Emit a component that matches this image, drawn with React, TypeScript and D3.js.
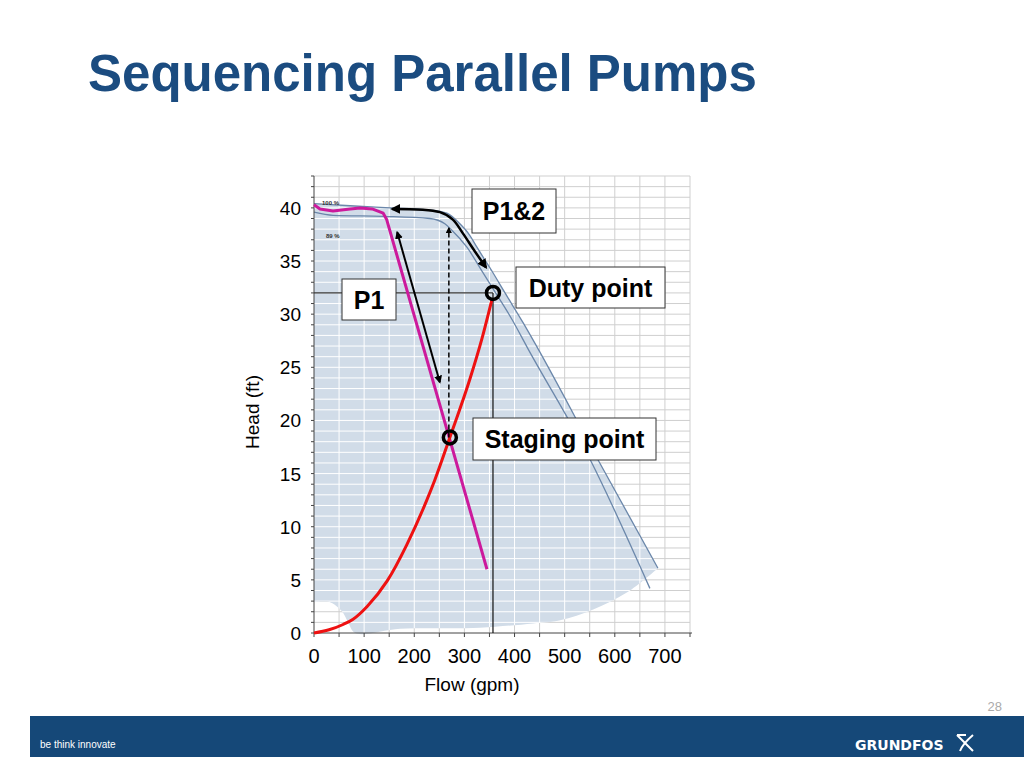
import { useEffect, useRef } from "react"
import * as d3 from "d3"

const flowTicks = [0, 100, 200, 300, 400, 500, 600, 700]
const headTicks = [0, 5, 10, 15, 20, 25, 30, 35, 40]

// pump curve at 100 % (outer line)
const fullFlow = [0, 72, 152, 231, 265, 291, 311, 325, 357, 381, 417, 445, 570, 686]
const fullHead = [40.4, 40.2, 40.0, 39.8, 39.5, 38.5, 37.4, 36.3, 33.9, 32.0, 29.2, 26.9, 16.0, 6.1]

// pump curve at 89 % (inner line)
const reducedFlow = [0, 38, 138, 231, 261, 275, 305, 337, 361, 395, 425, 551, 670]
const reducedHead = [39.6, 39.3, 39.2, 39.0, 38.5, 37.9, 36.3, 33.9, 32.1, 29.5, 26.9, 16.3, 4.2]

// lower edge of the operating area, right to left
const envelopeFlow = [686, 624, 557, 491, 437, 331, 172, 82, 68, 58, 48, 32, 0]
const envelopeHead = [6.1, 3.8, 2.2, 1.2, 0.9, 0.5, 0.4, 0, 1.0, 1.9, 2.4, 2.9, 2.9]

// single pump (P1)
const p1Flow = [0, 12, 38, 72, 92, 116, 138, 145, 345]
const p1Head = [40.3, 39.9, 39.7, 39.9, 40.0, 39.9, 39.5, 38.9, 6.0]

// system curve
const systemFlow = [0, 30, 58, 78, 106, 146, 185, 225, 241, 271, 311, 335, 355]
const systemHead = [0, 0.3, 0.8, 1.3, 2.5, 4.9, 8.3, 12.5, 14.4, 18.4, 23.9, 27.7, 31.4]

const dutyPoint = { flow: 357, head: 32.0 }
const stagingPoint = { flow: 271, head: 18.4 }

// annotation arrows
const curvedArrowFlow = [156, 251, 277, 297, 321, 343]
const curvedArrowHead = [39.9, 39.6, 38.9, 37.6, 35.9, 34.4]
const slopeArrowFlow = [166, 251]
const slopeArrowHead = [37.7, 23.6]
const dashedArrowHead = [18.4, 38.1]

const labels = [
  { text: "P1&2", x0: 472, y0: 189, x1: 556, y1: 233 },
  { text: "Duty point", x0: 516, y0: 267, x1: 665, y1: 308 },
  { text: "P1", x0: 342, y0: 279, x1: 396, y1: 320 },
  { text: "Staging point", x0: 473, y0: 418, x1: 656, y1: 460 },
]

const font = "'Liberation Sans', Arial, sans-serif"

export default function App() {
  const svgRef = useRef<SVGSVGElement>(null)

  useEffect(() => {
    if (!svgRef.current) return
    const svg = d3.select(svgRef.current)
    svg.selectAll("*").remove()

    const x = d3.scaleLinear().domain([0, 750]).range([314, 690])
    const y = d3.scaleLinear().domain([0, 43]).range([633, 176])

    const zip = (a: number[], b: number[]) => a.map((v, i) => [v, b[i]] as [number, number])
    const smooth = d3
      .line<[number, number]>()
      .x((d) => x(d[0]))
      .y((d) => y(d[1]))
      .curve(d3.curveMonotoneX)
    const straight = d3
      .line<[number, number]>()
      .x((d) => x(d[0]))
      .y((d) => y(d[1]))

    const fullPts = zip(fullFlow, fullHead)
    const reducedPts = zip(reducedFlow, reducedHead)
    const bottomPts = zip(envelopeFlow, envelopeHead)
    const bottomPath = (d3
      .line<[number, number]>()
      .x((d) => x(d[0]))
      .y((d) => y(d[1]))
      .curve(d3.curveCatmullRom)(bottomPts) || "").replace(/^M/, "L")
    const envelopePath = (smooth(fullPts) || "") + bottomPath + "Z"

    const defs = svg.append("defs")
    defs.append("clipPath").attr("id", "envelope-clip").append("path").attr("d", envelopePath)
    defs
      .append("marker")
      .attr("id", "arrow")
      .attr("viewBox", "0 0 10 10")
      .attr("refX", 8)
      .attr("refY", 5)
      .attr("markerWidth", 4)
      .attr("markerHeight", 4)
      .attr("orient", "auto-start-reverse")
      .append("path")
      .attr("d", "M0,0L10,5L0,10Z")
      .attr("fill", "#000")

    svg.append("rect").attr("width", 1024).attr("height", 768).attr("fill", "#fff")

    // grid
    const drawGrid = (g: d3.Selection<SVGGElement, unknown, null, undefined>, color: string) => {
      g.selectAll(".v")
        .data(d3.range(50, 751, 50))
        .enter()
        .append("line")
        .attr("x1", (d) => x(d))
        .attr("x2", (d) => x(d))
        .attr("y1", y(43))
        .attr("y2", y(0))
        .attr("stroke", color)
        .attr("stroke-width", 1)
      g.selectAll(".h")
        .data(d3.range(1, 44, 1))
        .enter()
        .append("line")
        .attr("x1", x(0))
        .attr("x2", x(750))
        .attr("y1", (d) => y(d))
        .attr("y2", (d) => y(d))
        .attr("stroke", color)
        .attr("stroke-width", 1)
    }
    drawGrid(svg.append("g"), "#cfcfcf")

    svg.append("path").attr("d", envelopePath).attr("fill", "#d1dce8")
    drawGrid(svg.append("g").attr("clip-path", "url(#envelope-clip)"), "#ffffff")

    // pump curves
    ;[fullPts, reducedPts].forEach((pts) => {
      svg
        .append("path")
        .attr("d", smooth(pts))
        .attr("fill", "none")
        .attr("stroke", "#6b87aa")
        .attr("stroke-width", 1.3)
    })
    svg
      .append("text")
      .attr("x", 322)
      .attr("y", 205)
      .attr("font-family", font)
      .attr("font-size", 6)
      .attr("font-weight", "bold")
      .attr("fill", "#333")
      .text("100 %")
    svg
      .append("text")
      .attr("x", 326)
      .attr("y", 238)
      .attr("font-family", font)
      .attr("font-size", 6)
      .attr("font-weight", "bold")
      .attr("fill", "#333")
      .text("89 %")

    // axes
    svg
      .append("line")
      .attr("x1", x(0))
      .attr("x2", x(0))
      .attr("y1", y(43))
      .attr("y2", y(0))
      .attr("stroke", "#444")
    svg
      .append("line")
      .attr("x1", x(0))
      .attr("x2", x(750) + 2)
      .attr("y1", y(0))
      .attr("y2", y(0))
      .attr("stroke", "#444")
    svg
      .selectAll(".ytick")
      .data(d3.range(0, 44, 1))
      .enter()
      .append("line")
      .attr("x1", x(0) - 3)
      .attr("x2", x(0))
      .attr("y1", (d) => y(d))
      .attr("y2", (d) => y(d))
      .attr("stroke", "#444")
    svg
      .selectAll(".xtick")
      .data(d3.range(0, 751, 50))
      .enter()
      .append("line")
      .attr("x1", (d) => x(d))
      .attr("x2", (d) => x(d))
      .attr("y1", y(0))
      .attr("y2", y(0) + 4)
      .attr("stroke", "#444")

    // duty reference lines
    svg
      .append("line")
      .attr("x1", x(0))
      .attr("x2", x(dutyPoint.flow))
      .attr("y1", y(dutyPoint.head))
      .attr("y2", y(dutyPoint.head))
      .attr("stroke", "#333")
      .attr("stroke-width", 1.2)
    svg
      .append("line")
      .attr("x1", x(dutyPoint.flow))
      .attr("x2", x(dutyPoint.flow))
      .attr("y1", y(dutyPoint.head))
      .attr("y2", y(0))
      .attr("stroke", "#111")
      .attr("stroke-width", 1.2)

    // P1 and system curves
    svg
      .append("path")
      .attr("d", straight(zip(p1Flow, p1Head)))
      .attr("fill", "none")
      .attr("stroke", "#cc1a9c")
      .attr("stroke-width", 3)
      .attr("stroke-linejoin", "round")
    svg
      .append("path")
      .attr("d", smooth(zip(systemFlow, systemHead)))
      .attr("fill", "none")
      .attr("stroke", "#ee1111")
      .attr("stroke-width", 3)

    // arrows
    svg
      .append("path")
      .attr(
        "d",
        d3
          .line<[number, number]>()
          .x((d) => x(d[0]))
          .y((d) => y(d[1]))
          .curve(d3.curveCatmullRom)(zip(curvedArrowFlow, curvedArrowHead))
      )
      .attr("fill", "none")
      .attr("stroke", "#000")
      .attr("stroke-width", 2.5)
      .attr("marker-start", "url(#arrow)")
      .attr("marker-end", "url(#arrow)")
    svg
      .append("path")
      .attr("d", straight(zip(slopeArrowFlow, slopeArrowHead)))
      .attr("fill", "none")
      .attr("stroke", "#000")
      .attr("stroke-width", 2)
      .attr("marker-start", "url(#arrow)")
      .attr("marker-end", "url(#arrow)")
    svg
      .append("path")
      .attr("d", straight(dashedArrowHead.map((h) => [stagingPoint.flow - 2, h] as [number, number])))
      .attr("fill", "none")
      .attr("stroke", "#000")
      .attr("stroke-width", 1.5)
      .attr("stroke-dasharray", "5,3")
      .attr("marker-end", "url(#arrow)")

    // operating points
    ;[dutyPoint, stagingPoint].forEach((p) => {
      svg
        .append("circle")
        .attr("cx", x(p.flow))
        .attr("cy", y(p.head))
        .attr("r", 6.5)
        .attr("fill", "none")
        .attr("stroke", "#000")
        .attr("stroke-width", 3.5)
    })

    // label boxes
    labels.forEach((l) => {
      svg
        .append("rect")
        .attr("x", l.x0)
        .attr("y", l.y0)
        .attr("width", l.x1 - l.x0)
        .attr("height", l.y1 - l.y0)
        .attr("fill", "#fff")
        .attr("stroke", "#333")
        .attr("stroke-width", 1)
      svg
        .append("text")
        .attr("x", (l.x0 + l.x1) / 2)
        .attr("y", (l.y0 + l.y1) / 2 + 9)
        .attr("text-anchor", "middle")
        .attr("font-family", font)
        .attr("font-weight", "bold")
        .attr("font-size", 25)
        .attr("fill", "#000")
        .text(l.text)
    })

    // tick labels
    svg
      .selectAll(".ylab")
      .data(headTicks)
      .enter()
      .append("text")
      .attr("x", 301)
      .attr("y", (d) => y(d) + 7)
      .attr("text-anchor", "end")
      .attr("font-family", font)
      .attr("font-size", 19)
      .attr("fill", "#000")
      .text((d) => d)
    svg
      .selectAll(".xlab")
      .data(flowTicks)
      .enter()
      .append("text")
      .attr("x", (d) => x(d))
      .attr("y", 663)
      .attr("text-anchor", "middle")
      .attr("font-family", font)
      .attr("font-size", 20)
      .attr("fill", "#000")
      .text((d) => d)
    svg
      .append("text")
      .attr("transform", "translate(259,412) rotate(-90)")
      .attr("text-anchor", "middle")
      .attr("font-family", font)
      .attr("font-size", 19)
      .attr("fill", "#000")
      .text("Head (ft)")
    svg
      .append("text")
      .attr("x", 472)
      .attr("y", 691)
      .attr("text-anchor", "middle")
      .attr("font-family", font)
      .attr("font-size", 19)
      .attr("fill", "#000")
      .text("Flow (gpm)")

    // title
    svg
      .append("text")
      .attr("x", 88)
      .attr("y", 91)
      .attr("font-family", font)
      .attr("font-weight", "bold")
      .attr("font-size", 51)
      .attr("fill", "#1b4c80")
      .text("Sequencing Parallel Pumps")

    // footer
    svg.append("text")
      .attr("x", 1002)
      .attr("y", 711)
      .attr("text-anchor", "end")
      .attr("font-family", font)
      .attr("font-size", 13)
      .attr("fill", "#aaa")
      .text("28")
    svg.append("rect").attr("x", 30).attr("y", 716).attr("width", 994).attr("height", 41).attr("fill", "#154878")
    svg.append("text")
      .attr("x", 40)
      .attr("y", 748)
      .attr("font-family", font)
      .attr("font-size", 10)
      .attr("fill", "#fff")
      .text("be think innovate")
    svg.append("text")
      .attr("x", 855)
      .attr("y", 750)
      .attr("font-family", "'DejaVu Sans', sans-serif")
      .attr("font-weight", "bold")
      .attr("font-size", 14)
      .attr("fill", "#fff")
      .text("GRUNDFOS")
    svg.append("path")
      .attr("d", "M957,735 L973,751 M973,735 C966,741 962,746 960,751 M957,735 L966,735")
      .attr("fill", "none")
      .attr("stroke", "#fff")
      .attr("stroke-width", 2)
  }, [])

  return (
    <svg
      ref={svgRef}
      width={1024}
      height={768}
      style={{ position: "absolute", left: 0, top: 0 }}
    ></svg>
  )
}
